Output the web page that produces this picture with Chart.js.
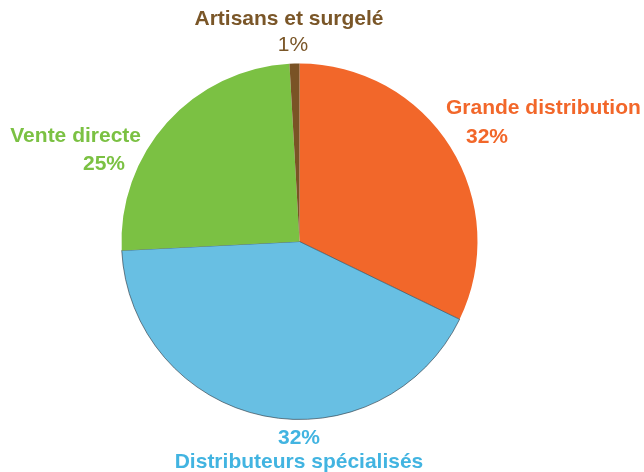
<!DOCTYPE html>
<html>
<head>
<meta charset="utf-8">
<script src="https://cdn.jsdelivr.net/npm/chart.js@4/dist/chart.umd.min.js"></script>
<style>
  html, body { margin: 0; padding: 0; background: #ffffff; }
  #wrap { width: 644px; height: 472px; }
</style>
</head>
<body>
<div id="wrap"><canvas id="c" width="644" height="472"></canvas></div>
<script>
const categories = ["Grande distribution", "Distributeurs spécialisés", "Vente directe", "Artisans et surgelé"];
const shares = [32.2, 42.0, 24.9, 0.9];
const percentLabels = ["32%", "32%", "25%", "1%"];
const sliceColors = ["#F2672A", "#68BFE3", "#7BC143", "#7A5325"];
const textColors = ["#F2672A", "#42B4E1", "#7BC143", "#7A5628"];

// Label layout (text placement only)
const labelLayout = [
  { name: { x: 446, y: 108, align: "left", bold: true }, pct: { x: 487, y: 137, align: "center", bold: true } },
  { name: { x: 299, y: 462, align: "center", bold: true }, pct: { x: 299, y: 438, align: "center", bold: true } },
  { name: { x: 141, y: 136, align: "right", bold: true }, pct: { x: 125, y: 164, align: "right", bold: true } },
  { name: { x: 289, y: 19, align: "center", bold: true }, pct: { x: 293, y: 45, align: "center", bold: false } }
];

const labelPlugin = {
  id: "sliceLabels",
  afterDraw(chart) {
    const ctx = chart.ctx;
    ctx.save();
    ctx.textBaseline = "middle";
    categories.forEach((cat, i) => {
      const L = labelLayout[i];
      ctx.fillStyle = textColors[i];
      ctx.font = (L.name.bold ? "bold " : "") + "21px 'Liberation Sans', Arial, sans-serif";
      ctx.textAlign = L.name.align;
      ctx.fillText(cat, L.name.x, L.name.y);
      ctx.font = (L.pct.bold ? "bold " : "") + "21px 'Liberation Sans', Arial, sans-serif";
      ctx.textAlign = L.pct.align;
      ctx.fillText(percentLabels[i], L.pct.x, L.pct.y);
    });
    ctx.restore();
  }
};

new Chart(document.getElementById("c"), {
  type: "pie",
  data: {
    labels: categories,
    datasets: [{
      data: shares,
      backgroundColor: sliceColors,
      borderWidth: [0, 1, 0, 0],
      borderColor: ["#F2672A", "rgba(40,50,60,0.6)", "#7BC143", "#7A5325"]
    }]
  },
  options: {
    responsive: false,
    animation: false,
    layout: { padding: { top: 63, bottom: 52, left: 0, right: 45 } },
    plugins: {
      legend: { display: false },
      tooltip: { enabled: false }
    }
  },
  plugins: [labelPlugin]
});
</script>
</body>
</html>
